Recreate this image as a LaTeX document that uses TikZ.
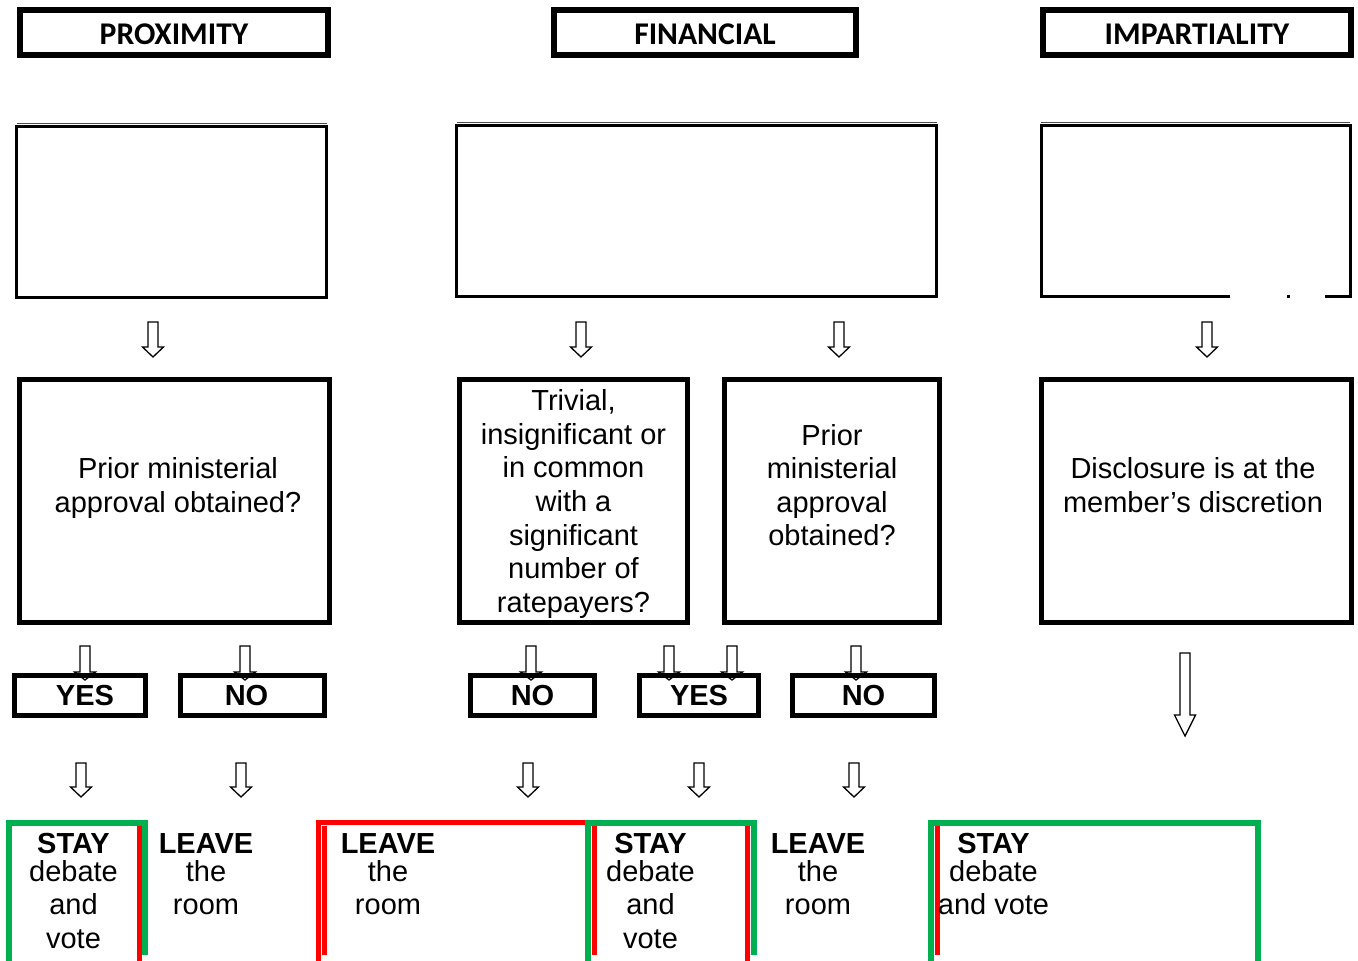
\documentclass[tikz,border=0pt]{standalone}
\usepackage{fontspec}
\setmainfont{Liberation Sans}
\newfontfamily\headfont{Carlito}
\usetikzlibrary{calc}

\newlength\unitpx
\setlength\unitpx{0.02cm}
\definecolor{stayg}{RGB}{0,176,80}
\definecolor{leaver}{RGB}{255,0,0}

% hollow down arrow: x, top, tip, head length
\newcommand{\hollowarrow}[4]{%
  \draw[blockarrow] (#1-5,#2) -- (#1+5,#2) -- (#1+5,#3-#4) -- (#1+10.5,#3-#4)
    -- (#1,#3) -- (#1-10.5,#3-#4) -- (#1-5,#3-#4) -- cycle;}

\begin{document}
\begin{tikzpicture}[
		x=0.02cm, y=-0.02cm,
		every node/.style={inner sep=0pt, outer sep=0pt},
		headbox/.style={draw, line width=6\unitpx, minimum width=308\unitpx, minimum height=45\unitpx,
			font=\headfont\bfseries\fontsize{18}{21}\selectfont, text height=24.5\unitpx, text depth=0pt},
		ebox/.style={draw, line width=3\unitpx, minimum height=170.5\unitpx},
		qbox/.style={draw, line width=5\unitpx, minimum height=243\unitpx},
		qtext/.style={align=center, font=\fontsize{16.5}{19.1}\selectfont},
		answer/.style={draw, line width=5\unitpx, minimum height=40\unitpx,
			font=\bfseries\fontsize{16.5}{19}\selectfont},
		outcome/.style={align=center, anchor=north, font=\fontsize{16.5}{19.1}\selectfont},
		blockarrow/.style={draw, fill=white, line width=1.3\unitpx, line join=miter},
		greenline/.style={draw=stayg, line width=6\unitpx},
		redline/.style={draw=leaver, line width=5\unitpx}
	]
  \useasboundingbox (0,0) rectangle (1358,960);

  % headings
  \node (prox) [headbox] at (174,32.5) {PROXIMITY};
  \node (fin) [headbox, minimum width=302\unitpx] at (705,32.5) {FINANCIAL};
  \node (imp) [headbox] at (1197,32.5) {IMPARTIALITY};

  % empty boxes
  \node (e1) [ebox, minimum width=310\unitpx] at (171.5,212) {};
  \node (e2) [ebox, minimum width=480\unitpx] at (696.5,211) {};
  \node (e3) [ebox, draw=none, minimum width=309\unitpx] at (1195.5,211) {};
  \draw[line width=3\unitpx] ($(e3.south west)+(189,0)$) -- (e3.south west) -- (e3.north west)
    -- (e3.north east) -- (e3.south east) -- ($(e3.south east)+(-25,0)$);
  \draw[line width=3\unitpx] ($(e3.south west)+(246,0)$) -- ++(3,0);
  \foreach \b in {e1,e2,e3}
    \draw[line width=1\unitpx, black!70] ([yshift=3\unitpx]\b.north west) -- ([yshift=3\unitpx]\b.north east);

  \foreach \x in {153,581,839,1207}
    {\hollowarrow{\x}{322}{357}{10}}

  % questions
  \node (q1) [qbox, minimum width=310\unitpx] at (174.5,501) {};
  \node (q2) [qbox, minimum width=228\unitpx] at (573.5,501) {};
  \node (q3) [qbox, minimum width=215\unitpx] at (832,501) {};
  \node (q4) [qbox, minimum width=310\unitpx] at (1196.5,501) {};
  \node (q1t) [qtext] at (178,488) {Prior ministerial\\approval obtained?};
  \node (q2t) [qtext] at (573.5,504) {Trivial,\\insignificant or\\in common\\with a\\significant\\number of\\ratepayers?};
  \node (q3t) [qtext] at (832,485) {Prior\\ministerial\\approval\\obtained?};
  \node (q4t) [qtext] at (1193,485) {Disclosure is at the\\member’s discretion};

  \foreach \x in {85,245,531,669,732,856}
    {\hollowarrow{\x}{646}{680}{8}}
  \hollowarrow{1185}{653}{736}{21}

  % answers
  \node (yes1) [answer, minimum width=131\unitpx] at (80,695.5) {\hspace*{10\unitpx}YES};
  \node (no1) [answer, minimum width=144\unitpx] at (252.5,695.5) {NO\hspace*{12\unitpx}};
  \node (no2) [answer, minimum width=124\unitpx] at (532.5,695.5) {NO};
  \node (yes2) [answer, minimum width=119\unitpx] at (699,695.5) {YES};
  \node (no3) [answer, minimum width=142\unitpx] at (863.5,695.5) {NO};

  \foreach \x in {81,241,528,699,854}
    {\hollowarrow{\x}{763}{797}{10}}

  % outcome frames
  \draw[greenline] (9,962) -- (9,822.5) -- (145,822.5) -- (145,955);
  \draw[redline] (139.5,826) -- (139.5,962);
  \draw[redline] (318,962) -- (318,822.5) -- (585,822.5);
  \draw[redline] (324,826) -- (324,955);
  \draw[greenline] (587.5,962) -- (587.5,822.5) -- (753.5,822.5) -- (753.5,955);
  \draw[redline] (594,826) -- (594,955);
  \draw[redline] (747.5,826) -- (747.5,962);
  \draw[greenline] (931,962) -- (931,822.5) -- (1258,822.5) -- (1258,962);
  \draw[redline] (937,826) -- (937,955);

  % outcomes
  \node (stay1) [outcome] at (73.5,833.5) {\textbf{STAY}\\[-6\unitpx]debate\\and\\vote};
  \node (leave1) [outcome] at (206,833.5) {\textbf{LEAVE}\\[-6\unitpx]the\\room};
  \node (leave2) [outcome] at (388,833.5) {\textbf{LEAVE}\\[-6\unitpx]the\\room};
  \node (stay2) [outcome] at (650.5,833.5) {\textbf{STAY}\\[-6\unitpx]debate\\and\\vote};
  \node (leave3) [outcome] at (818,833.5) {\textbf{LEAVE}\\[-6\unitpx]the\\room};
  \node (stay3) [outcome] at (993.5,833.5) {\textbf{STAY}\\[-6\unitpx]debate\\and vote};
\end{tikzpicture}
\end{document}
